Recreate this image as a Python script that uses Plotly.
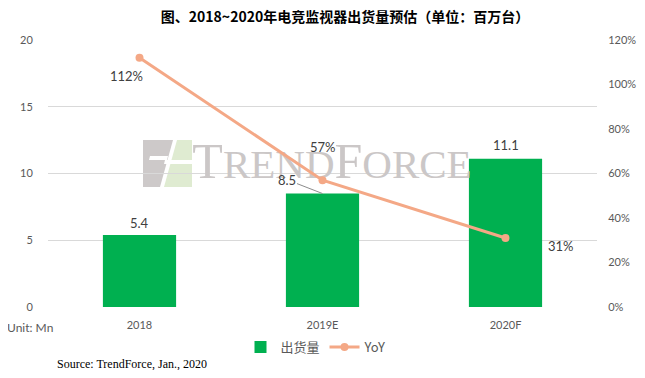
import plotly.graph_objects as go

categories = ["2018", "2019E", "2020F"]
shipments = [5.4, 8.5, 11.1]
yoy = [1.12, 0.57, 0.31]
bar_label_text = ["5.4", "8.5", "11.1"]
yoy_label_text = ["112%", "57%", "31%"]

# the page body has an 8px margin on each side; draw a figure that fits
# inside it and express all pixel positions in window coordinates
OFF = 8
WIN_W, WIN_H = 645, 378
W, H = WIN_W - 2 * OFF, WIN_H - 2 * OFF
PL, PR, PT, PB = 48, 597, 40, 307      # plot area in window pixels
L, R, T, B = PL - OFF, OFF + W - PR, PT - OFF, OFF + H - PB
PW, PH = W - L - R, H - T - B

def px(x):
    return (x - PL) / PW

def py(y):
    return (PB - y) / PH

xs = list(range(len(categories)))

fig = go.Figure()

# watermark text (drawn first -> below bars)
wm_x = px(332) * 3 - 0.5
wm_y = py(168) * 20
fig.add_trace(go.Scatter(
    x=[wm_x], y=[wm_y], mode="text",
    text=["<span style='font-size:50px'>T</span>REND<span style='font-size:50px'>F</span>ORCE"],
    textfont=dict(family="Liberation Serif", size=41, color="#cbc7c7"),
    showlegend=False, hoverinfo="skip", cliponaxis=False,
))

fig.add_trace(go.Bar(
    x=xs, y=shipments, name="出货量", width=0.4,
    marker=dict(color="#00B050", line=dict(width=0)),
    yaxis="y",
))

fig.add_trace(go.Scatter(
    x=xs, y=yoy, name="YoY", mode="lines+markers",
    line=dict(color="#F4A886", width=3),
    marker=dict(color="#F4A886", size=8),
    yaxis="y2",
))

LBL = dict(family="Lato", size=13, color="#404040")
ann = []
# bar labels
bar_offsets = [(0, -12, False), (-36, -14, True), (0, -14, False)]
for xi, v, t, (ox, oy, arrow) in zip(xs, shipments, bar_label_text, bar_offsets):
    if arrow:
        ann.append(dict(x=xi, y=v, xref="x", yref="y", text=t, showarrow=True,
                        arrowhead=0, arrowwidth=1, arrowcolor="#8c8c8c", ax=ox, ay=oy,
                        standoff=0, font=LBL))
    else:
        ann.append(dict(x=xi, y=v, xref="x", yref="y", text=t, showarrow=False,
                        yshift=-oy, font=LBL))
# yoy labels
yoy_offsets = [(-13, -18), (0, 33), (55, -8)]
for xi, v, t, (ox, oy) in zip(xs, yoy, yoy_label_text, yoy_offsets):
    ann.append(dict(x=xi, y=v, xref="x", yref="y2", text=t, showarrow=False,
                    xshift=ox, yshift=oy, font=LBL))

ann.append(dict(x=px(5), y=py(327), xref="paper", yref="paper", text="Unit: Mn", showarrow=False,
                xanchor="left", yanchor="middle", font=dict(family="Lato", size=12, color="#595959")))
ann.append(dict(x=px(55), y=py(364), xref="paper", yref="paper", text="Source: TrendForce, Jan., 2020",
                showarrow=False, xanchor="left", yanchor="middle",
                font=dict(family="Liberation Serif", size=12, color="#000000")))

shapes = []
# logo watermark
def path(pts):
    return "M " + " L ".join(f"{px(x)},{py(y)}" for x, y in pts) + " Z"

shapes.append(dict(type="path", xref="paper", yref="paper", layer="below",
                   path=path([(143, 140), (173, 140), (160, 187), (143, 187)]),
                   fillcolor="#cdc9c9", line=dict(width=0)))
shapes.append(dict(type="path", xref="paper", yref="paper", layer="below",
                   path=path([(177, 140), (192, 140), (192, 187), (164, 187)]),
                   fillcolor="#dfebd1", line=dict(width=0)))
shapes.append(dict(type="path", xref="paper", yref="paper", layer="below",
                   path=path([(165, 160), (192, 160), (192, 164), (164, 164)]),
                   fillcolor="#ffffff", line=dict(width=0)))
shapes.append(dict(type="path", xref="paper", yref="paper", layer="below",
                   path=path([(150, 156), (168, 156), (167, 160), (149, 160)]),
                   fillcolor="#ffffff", line=dict(width=0)))

TICK = dict(family="Lato", size=11, color="#595959")

fig.update_layout(
    width=W, height=H,
    margin=dict(l=L, r=R, t=T, b=B, autoexpand=False),
    paper_bgcolor="white", plot_bgcolor="white",
    title=dict(text="<b>图、2018~2020年电竞监视器出货量预估（单位：百万台）</b>",
               x=px(345), xanchor="center", xref="paper",
               y=1 - 4 / H, yanchor="top", yref="container", pad=dict(t=0, b=0, l=0, r=0),
               font=dict(family="Noto Sans CJK SC", size=14, color="#000000")),
    xaxis=dict(tickmode="array", tickvals=xs, ticktext=categories, range=[-0.5, 2.5],
               showgrid=False, zeroline=False, showline=False,
               ticks="outside", ticklen=8, tickcolor="rgba(0,0,0,0)", tickfont=TICK),
    yaxis=dict(range=[0, 20], dtick=5, showgrid=True, gridcolor="#d9d9d9", gridwidth=1,
               zeroline=False, showline=False, ticks="outside", ticklen=12,
               tickcolor="rgba(0,0,0,0)", tickfont=TICK),
    yaxis2=dict(range=[0, 1.2], dtick=0.2, tickformat=".0%", overlaying="y", side="right",
                showgrid=False, zeroline=False, showline=False, ticks="outside", ticklen=8,
                tickcolor="rgba(0,0,0,0)", tickfont=TICK),
    legend=dict(orientation="h", x=px(316), xanchor="center", y=py(347), yanchor="middle",
                font=dict(family="Noto Sans CJK SC", size=13, color="#595959"),
                itemwidth=30, tracegroupgap=0),
    annotations=ann,
    shapes=shapes,
    showlegend=True,
)

fig.write_html("out.html")
